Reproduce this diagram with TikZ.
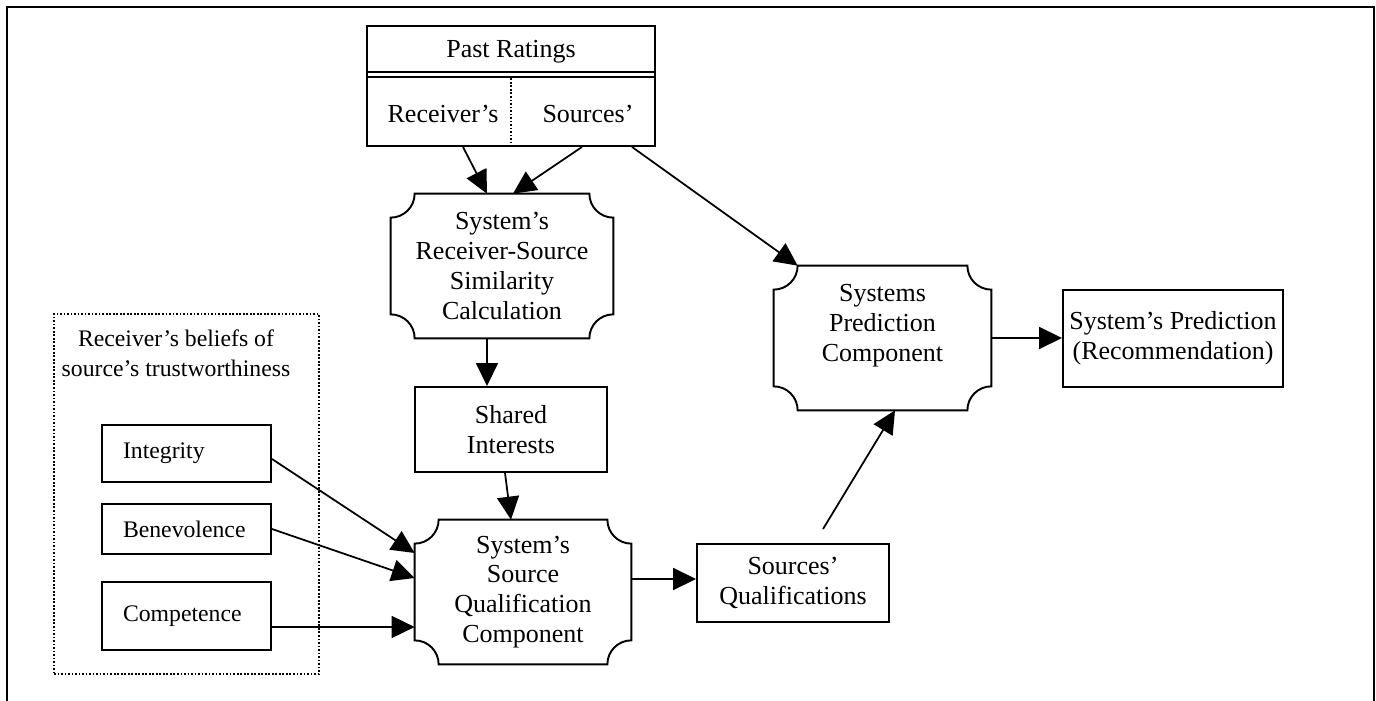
\documentclass[tikz,border=0pt]{standalone}
\usepackage{fontspec}
\setmainfont{Liberation Serif}
\usetikzlibrary{arrows.meta}

\newcommand{\maintext}{\fontsize{14.8}{17}\selectfont}
\newcommand{\smalltext}{\fontsize{13.5}{17}\selectfont}

% outline with concave corners round a named node
\newcommand{\notchframe}[1]{%
  \draw[boxline] ([xshift=\notch]#1.north west) -- ([xshift=-\notch]#1.north east)
    arc[start angle=180, end angle=270, radius=\notch]
    -- ([yshift=\notch]#1.south east)
    arc[start angle=90, end angle=180, radius=\notch]
    -- ([xshift=\notch]#1.south west)
    arc[start angle=0, end angle=90, radius=\notch]
    -- ([yshift=-\notch]#1.north west)
    arc[start angle=270, end angle=360, radius=\notch] -- cycle;}

\begin{document}
\begin{tikzpicture}[
  font=\maintext,
  boxline/.style={line width=1.1pt},
  box/.style={draw, line width=1.1pt, align=center, inner sep=0pt},
  notchbox/.style={align=center, inner sep=0pt},
  factor/.style={draw, line width=1.1pt, align=left, text width=2.54cm,
    inner xsep=0.42cm, inner ysep=0pt, minimum width=3.38cm, font=\smalltext},
  arr/.style={line width=1pt, -{Triangle[length=0.46cm, width=0.44cm]}}]

  \def\notch{0.48cm}
  \useasboundingbox (0,0) rectangle (27.52,14);

  % Frame
  \draw[line width=1.5pt] (0.14,-0.1) rectangle (27.48,13.86);

  % Past ratings
  \node[box, minimum width=5.76cm, minimum height=2.4cm] (past) at (10.22,12.28) {};
  \node (pasttitle) at (10.22,12.96) {Past Ratings};
  \draw[boxline] (past.west |- 0,12.56) -- (past.east |- 0,12.56);
  \draw[boxline] (past.west |- 0,12.46) -- (past.east |- 0,12.46);
  \draw[line width=0.9pt, dash pattern=on 1pt off 1pt] (past.south) -- (10.22,12.46);
  \node (recv) at (8.86,11.72) {Receiver's};
  \node (srcs) at (11.76,11.72) {Sources'};

  % Similarity and shared interests
  \node[notchbox, minimum width=4.44cm, minimum height=2.88cm] (sim) at (10.04,8.68)
    {System's\\Receiver-Source\\Similarity\\Calculation};
  \notchframe{sim}
  \node[box, minimum width=3.84cm, minimum height=1.7cm] (shared) at (10.22,5.41)
    {Shared\\Interests};

  % Source qualification
  \node[notchbox, minimum width=4.32cm, minimum height=2.88cm] (sq) at (10.46,2.16)
    {System's\\Source\\Qualification\\Component};
  \notchframe{sq}
  \node[box, minimum width=3.84cm, minimum height=1.56cm] (squal) at (15.86,2.34)
    {Sources'\\Qualifications};

  % Prediction
  \node[notchbox, minimum width=4.34cm, minimum height=2.88cm] (pc) at (17.65,7.24)
    {Systems\\Prediction\\Component\\~};
  \notchframe{pc}
  \node[box, minimum width=4.4cm, minimum height=1.94cm] (rec) at (23.46,7.23)
    {System's Prediction\\(Recommendation)};

  % Receiver's beliefs
  \node[line width=0.9pt, draw, dash pattern=on 1pt off 1pt, minimum width=5.3cm,
    minimum height=7.2cm] (beliefs) at (3.73,4.12) {};
  \node[font=\smalltext, align=center] (beliefstitle) at (3.52,6.94)
    {Receiver's beliefs of\\source's trustworthiness};
  \node[factor, minimum height=1.14cm] (integ) at (3.73,4.93) {Integrity};
  \node[factor, minimum height=1.0cm] (benev) at (3.73,3.42) {Benevolence};
  \node[factor, minimum height=1.36cm] (compet) at (3.73,1.68) {Competence};

  % Arrows
  \draw[arr] ([xshift=-0.96cm]past.south) -- ([xshift=-0.3cm]sim.north);
  \draw[arr] ([xshift=1.42cm]past.south) -- ([xshift=0.22cm]sim.north);
  \draw[arr] ([xshift=2.42cm]past.south) -- ([xshift=\notch]pc.north west);
  \draw[arr] ([xshift=-0.3cm]sim.south) -- ([xshift=-0.3cm]sim.south |- shared.north);
  \draw[arr] ([xshift=-0.12cm]shared.south) -- ([xshift=-0.24cm]sq.north);
  \draw[arr] ([yshift=-0.11cm]integ.east) -- ([yshift=0.78cm]sq.west);
  \draw[arr] (benev.east) -- ([yshift=0.28cm]sq.west);
  \draw[arr] ([yshift=-0.22cm]compet.east) -- ([yshift=-0.22cm]compet.east -| sq.west);
  \draw[arr] ([yshift=0.26cm]sq.east) -- ([yshift=0.26cm]sq.east -| squal.west);
  \draw[arr] ([xshift=0.6cm, yshift=0.28cm]squal.north) -- ([xshift=0.25cm]pc.south);
  \draw[arr] (pc.east) -- (pc.east -| rec.west);

\end{tikzpicture}
\end{document}
